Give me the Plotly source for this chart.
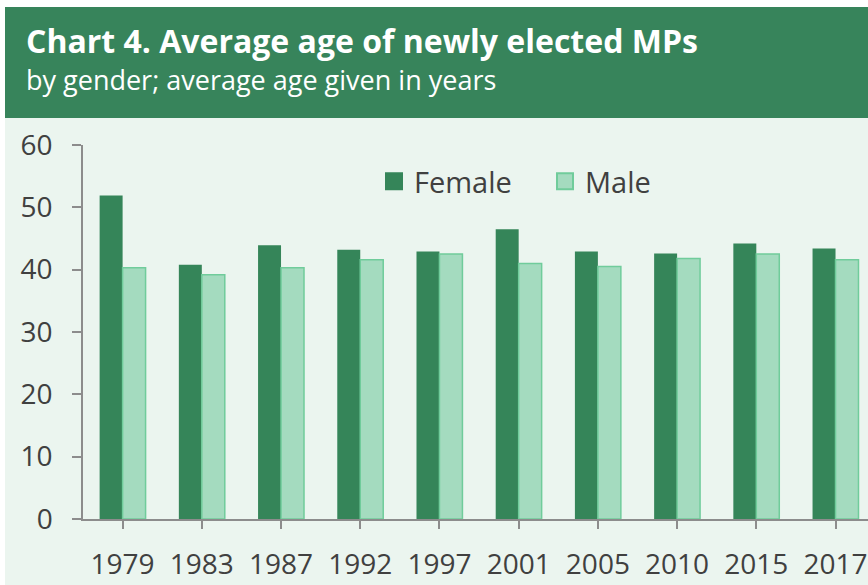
import plotly.graph_objects as go

years = ["1979", "1983", "1987", "1992", "1997", "2001", "2005", "2010", "2015", "2017"]
female = [51.9, 40.8, 43.9, 43.2, 42.9, 46.5, 42.9, 42.6, 44.2, 43.4]
male = [40.3, 39.2, 40.3, 41.6, 42.5, 41.0, 40.5, 41.8, 42.5, 41.6]

title_text = "Chart 4. Average age of newly elected MPs"
subtitle_text = "by gender; average age given in years"

DARK = "#358559"
LIGHT = "#a4dbbf"
LIGHT_EDGE = "#70cc9b"
BG = "#ebf5ef"
TXT = "#404040"
AX = "#8c8c8c"

W, H = 868, 585
L, R, T, B = 83, 0, 145, 66
pw, ph = W - L - R, H - T - B

def px_x(p):
    return (p - L) / pw

def px_y(p):
    return (H - B - p) / ph

fig = go.Figure()
fig.add_trace(go.Bar(x=years, y=female, name="Female", marker=dict(color=DARK, line=dict(color=DARK, width=0)), showlegend=False))
fig.add_trace(go.Bar(x=years, y=male, name="Male", marker=dict(color=LIGHT, line=dict(color=LIGHT_EDGE, width=1.5)), showlegend=False))
# legend entries
fig.add_trace(go.Scatter(x=[None], y=[None], mode="markers", name="Female",
                         marker=dict(symbol="square", size=16, color=DARK, line=dict(color=DARK, width=2))))
fig.add_trace(go.Scatter(x=[None], y=[None], mode="markers", name="Male",
                         marker=dict(symbol="square", size=16, color=LIGHT, line=dict(color=LIGHT_EDGE, width=2))))

shapes = [
    dict(type="rect", xref="paper", yref="paper", x0=px_x(5), x1=px_x(W + 5), y0=px_y(H + 5), y1=px_y(118),
         fillcolor=BG, line=dict(width=0), layer="below"),
    dict(type="rect", xref="paper", yref="paper", x0=px_x(5), x1=px_x(W + 5), y0=px_y(118), y1=px_y(7),
         fillcolor="#37845b", line=dict(width=0), layer="below"),
]

annotations = [
    dict(text="<b>" + title_text + "</b>", xref="paper", yref="paper", x=px_x(24), y=px_y(40),
         xanchor="left", yanchor="middle", showarrow=False,
         font=dict(family="Open Sans", size=32, color="white")),
    dict(text=subtitle_text, xref="paper", yref="paper", x=px_x(24), y=px_y(80),
         xanchor="left", yanchor="middle", showarrow=False,
         font=dict(family="Open Sans", size=27, color="white")),
]

fig.update_layout(
    width=W, height=H,
    margin=dict(l=L, r=R, t=T, b=B, pad=0),
    paper_bgcolor="white",
    plot_bgcolor=BG,
    barmode="group",
    bargap=0.42,
    bargroupgap=0,
    font=dict(family="Open Sans", color=TXT),
    shapes=shapes,
    annotations=annotations,
    legend=dict(orientation="h", x=px_x(374), y=px_y(156), xanchor="left", yanchor="top",
                font=dict(size=29, color=TXT), bgcolor="rgba(0,0,0,0)",
                itemsizing="trace", entrywidth=126, entrywidthmode="pixels"),
    xaxis=dict(range=[-0.5, 9.41], showline=True, linecolor=AX, linewidth=1.5,
               ticks="outside", ticklen=8, tickcolor=AX, tickwidth=1.5,
               tickfont=dict(size=28, color=TXT), ticklabelstandoff=12,
               showgrid=False, zeroline=False, fixedrange=True),
    yaxis=dict(range=[0, 60], dtick=10, showline=True, linecolor=AX, linewidth=1.5,
               ticks="outside", ticklen=9, tickcolor=AX, tickwidth=1.5,
               tickfont=dict(size=28, color=TXT), ticklabelstandoff=14,
               showgrid=False, zeroline=False, fixedrange=True),
)

fig.write_html("out.html")
